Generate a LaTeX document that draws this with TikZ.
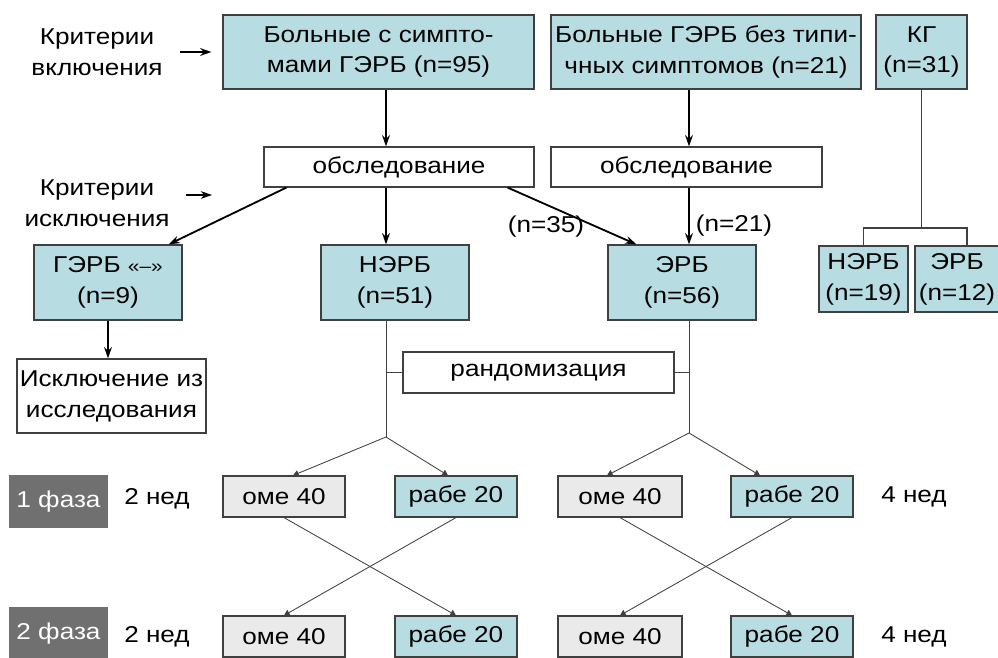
\documentclass[tikz,border=0pt]{standalone}
\usepackage{fontspec}
\setmainfont{Liberation Sans}[FakeStretch=1.14]
\usetikzlibrary{arrows.meta}
\definecolor{boxblue}{RGB}{183,221,226}
\definecolor{boxgray}{RGB}{234,234,234}
\definecolor{phasegray}{RGB}{112,112,112}
\definecolor{edgegray}{RGB}{64,64,64}

\begin{document}
\begin{tikzpicture}[
    x=0.025cm, y=-0.025cm,
    font=\fontsize{16.3}{22}\selectfont,
    box/.style={rectangle, draw=edgegray, line width=0.8pt, align=center, inner sep=0pt},
    bluebox/.style={box, fill=boxblue},
    graybox/.style={box, fill=boxgray, minimum width=3.05cm, minimum height=1.025cm},
    whitebox/.style={box, fill=white},
    phase/.style={rectangle, fill=phasegray, text=white, minimum width=2.475cm, minimum height=1.325cm},
    arrow/.style={-{Stealth[length=8pt,width=5.5pt]}, line width=1.3pt},
    thin arrow/.style={-{Triangle[length=4pt,width=4.5pt]}, line width=0.6pt, draw=edgegray},
    link/.style={line width=0.6pt, draw=edgegray},
    kglink/.style={line width=1.2pt, draw=edgegray}
]
\useasboundingbox (0,0) rectangle (998,657);
\clip (0,0) rectangle (998,657);

\node[align=center] (incl) at (97,52) {Критерии\\включения};
\node[align=center] (excl) at (97,203) {Критерии\\исключения};
\node[bluebox, minimum width=7.775cm, minimum height=1.85cm] (sympt) at (378.5,52) {Больные с симпто-\\мами ГЭРБ (n=95)};
\node[bluebox, minimum width=7.75cm, minimum height=1.85cm] (atyp) at (706,52) {Больные ГЭРБ без типи-\\чных симптомов (n=21)};
\node[bluebox, minimum width=2.275cm, minimum height=1.85cm] (kg) at (921.5,52) {КГ\\(n=31)};
\node[whitebox, minimum width=6.75cm, minimum height=1cm] (exam1) at (399,167) {обследование};
\node[whitebox, minimum width=6.775cm, minimum height=1cm] (exam2) at (686.5,167) {обследование};
\node[bluebox, minimum width=3.7cm, minimum height=1.875cm] (gerbneg) at (108,282.5) {ГЭРБ {\fontsize{13}{15}\selectfont«–»}\\(n=9)};
\node[bluebox, minimum width=3.7cm, minimum height=1.875cm] (nerb) at (395,282.5) {НЭРБ\\(n=51)};
\node[bluebox, minimum width=3.7cm, minimum height=1.875cm] (erb) at (682,282.5) {ЭРБ\\(n=56)};
\node[bluebox, minimum width=2.225cm, minimum height=1.65cm] (nerbkg) at (863.5,279) {НЭРБ\\(n=19)};
\node[bluebox, minimum width=2.1cm, minimum height=1.65cm] (erbkg) at (957,279) {ЭРБ\\(n=12)};
\node (n35) at (546,227) {(n=35)};
\node (n21) at (734,226) {(n=21)};
\node[whitebox, minimum width=4.725cm, minimum height=1.85cm] (excluded) at (111.5,396) {Исключение из\\исследования};
\node[whitebox, minimum width=6.775cm, minimum height=1.025cm] (rand) at (538.5,372.5) {рандомизация};

\node[phase] (phase1) at (58.5,501.5) {1 фаза};
\node[phase] (phase2) at (58.5,633.5) {2 фаза};
\node (wk1a) at (157,499) {2 нед};
\node (wk2a) at (157,637) {2 нед};
\node (wk1b) at (914,497) {4 нед};
\node (wk2b) at (914,637) {4 нед};
\node[graybox] (ome1a) at (284,496.5) {оме 40};
\node[bluebox, minimum width=3.05cm, minimum height=1.025cm] (rabe1a) at (456,496.5) {рабе 20};
\node[graybox, minimum width=3.1cm] (ome1b) at (620,496.5) {оме 40};
\node[bluebox, minimum width=3.05cm, minimum height=1.025cm] (rabe1b) at (792,496.5) {рабе 20};
\node[graybox] (ome2a) at (284,636.5) {оме 40};
\node[bluebox, minimum width=3.05cm, minimum height=1.025cm] (rabe2a) at (456,636.5) {рабе 20};
\node[graybox, minimum width=3.1cm] (ome2b) at (620,636.5) {оме 40};
\node[bluebox, minimum width=3.05cm, minimum height=1.025cm] (rabe2b) at (792,636.5) {рабе 20};

\coordinate (exclend) at (212,195);
\coordinate (forkL) at (386,437);
\coordinate (forkR) at (689,433);
\coordinate (kgfork) at (921.5,228);

\draw[arrow, shorten <=0.3cm, shorten >=0.275cm] (incl.east) -- (incl.east -| sympt.west);
\draw[arrow, shorten <=0.3cm] (excl.east |- exclend) -- (exclend);
\draw[arrow] (sympt.south -| forkL) -- (exam1.north -| forkL);
\draw[arrow] (atyp.south -| forkR) -- (exam2.north -| forkR);
\draw[arrow] ([xshift=0.575cm]exam1.south west) -- ([xshift=-0.35cm]gerbneg.north east);
\draw[arrow] (exam1.south -| forkL) -- (nerb.north -| forkL);
\draw[arrow] ([xshift=-0.675cm]exam1.south east) -- ([xshift=0.725cm]erb.north west);
\draw[arrow] (exam2.south -| forkR) -- (erb.north -| forkR);
\draw[arrow] (gerbneg.south) -- (gerbneg.south |- excluded.north);
\draw[kglink] (kg.south) -- (kgfork);
\draw[kglink] (nerbkg.north) |- (kgfork) -| ([xshift=0.25cm]erbkg.north);

\draw[link] (nerb.south -| forkL) -- (forkL);
\draw[link] (erb.south -| forkR) -- (forkR);
\draw[link] (rand.west) -- (rand.west -| forkL);
\draw[link] (rand.east) -- (rand.east -| forkR);
\draw[thin arrow] (forkL) -- ([xshift=0.225cm]ome1a.north);
\draw[thin arrow] (forkL) -- ([xshift=-0.2cm]rabe1a.north);
\draw[thin arrow] (forkR) -- ([xshift=-0.325cm]ome1b.north);
\draw[thin arrow] (forkR) -- ([xshift=-0.8cm]rabe1b.north);
\draw[thin arrow] (ome1a.south) -- (rabe2a.north);
\draw[thin arrow] (rabe1a.south) -- (ome2a.north);
\draw[thin arrow] (ome1b.south) -- (rabe2b.north);
\draw[thin arrow] (rabe1b.south) -- (ome2b.north);
\end{tikzpicture}
\end{document}
